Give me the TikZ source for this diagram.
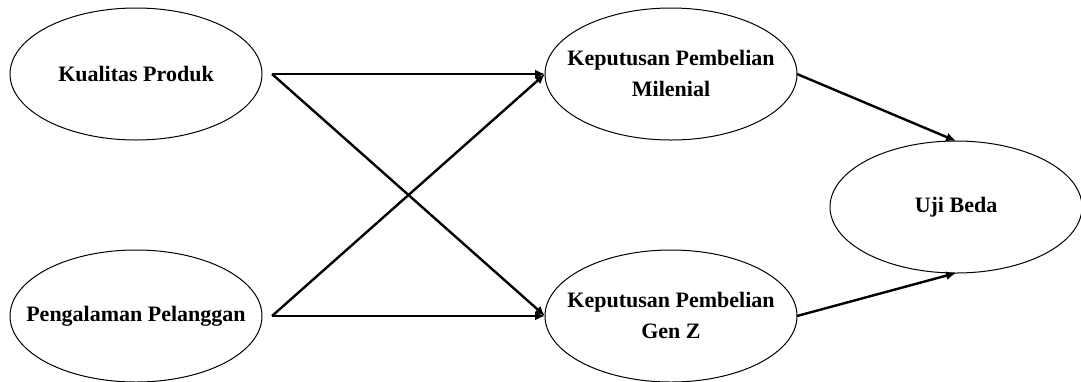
\documentclass[tikz,border=0pt]{standalone}
\usepackage{fontspec}
\setmainfont{Liberation Serif}
\usetikzlibrary{shapes.geometric,arrows.meta}
\begin{document}
\begin{tikzpicture}[x=0.5pt,y=-0.5pt,
  oval/.style={draw=black,line width=0.5pt,ellipse,minimum width=126pt,minimum height=66pt,inner sep=0pt,outer sep=0pt},
  txt/.style={font=\fontsize{11}{15.5}\selectfont\bfseries,align=center,inner sep=0pt},
  arr/.style={line width=1.2pt,-{Latex[length=5pt,width=4.5pt]}}]
\useasboundingbox (0,0) rectangle (1081,381);
\node[oval] (k) at (136,74) {};
\node[txt] (kt) at (k) {Kualitas Produk};
\node[oval] (p) at (136,316) {};
\node[txt] (pt) at (p) {Pengalaman Pelanggan};
\node[oval] (m) at (671,74) {};
\node[txt] (mt) at (671,73) {Keputusan Pembelian\\Milenial};
\node[oval] (g) at (671,316) {};
\node[txt] (gt) at (671,315) {Keputusan Pembelian\\Gen Z};
\node[oval] (u) at (956,207) {};
\node[txt] (ut) at (u) {Uji Beda};
\coordinate (ks) at ([xshift=5pt]k.east);
\coordinate (ps) at ([xshift=5pt]p.east);
\draw[arr] (ks) -- (m.west);
\draw[arr] (ks) -- (g.west);
\draw[arr] (ps) -- (g.west);
\draw[arr] (ps) -- (m.west);
\draw[arr] (m.east) -- (u.north);
\draw[arr] (g.east) -- (u.south);
\end{tikzpicture}
\end{document}
